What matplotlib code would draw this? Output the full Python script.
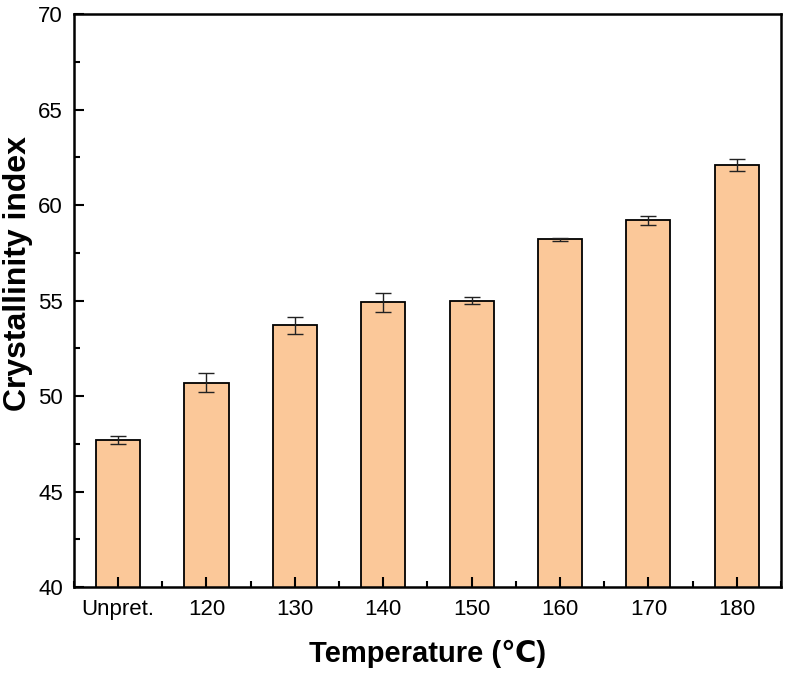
import matplotlib.pyplot as plt
from matplotlib.ticker import MultipleLocator

plt.rcParams['font.family'] = ['Liberation Sans', 'DejaVu Sans']

# Data
categories = ['Unpret.', '120', '130', '140', '150', '160', '170', '180']
crystallinity = [47.7, 50.7, 53.7, 54.9, 55.0, 58.2, 59.2, 62.1]
errors = [0.2, 0.5, 0.45, 0.5, 0.2, 0.1, 0.25, 0.3]

fig = plt.figure(figsize=(7.86, 6.77), dpi=100)
ax = fig.add_axes([0.094, 0.133, 0.8996, 0.846])

x = list(range(len(categories)))
ax.bar(x, crystallinity, width=0.5, color='#FBC899', edgecolor='black', linewidth=1.3,
       yerr=errors, capsize=6, error_kw={'elinewidth': 1, 'capthick': 1, 'ecolor': '#222222'})

ax.set_xlim(-0.5, 7.5)
ax.set_ylim(40, 70)
ax.set_xticks(x)
ax.set_xticklabels(categories)
ax.xaxis.set_minor_locator(MultipleLocator(0.5))
ax.yaxis.set_major_locator(MultipleLocator(5))
ax.yaxis.set_minor_locator(MultipleLocator(2.5))

ax.tick_params(which='both', direction='in', labelsize=16, width=1.5)
ax.tick_params(which='major', length=7)
ax.tick_params(which='minor', length=4)
ax.tick_params(axis='x', pad=9)
ax.tick_params(axis='y', pad=8)
for s in ax.spines.values():
    s.set_linewidth(1.8)

ax.set_xlabel('Temperature (\u2103)', fontsize=21, fontweight='bold', labelpad=14)
ax.set_ylabel('Crystallinity index', fontsize=23, fontweight='bold')
ax.yaxis.set_label_coords(-0.058, 0.548)

fig.savefig('out.png', dpi=100)
